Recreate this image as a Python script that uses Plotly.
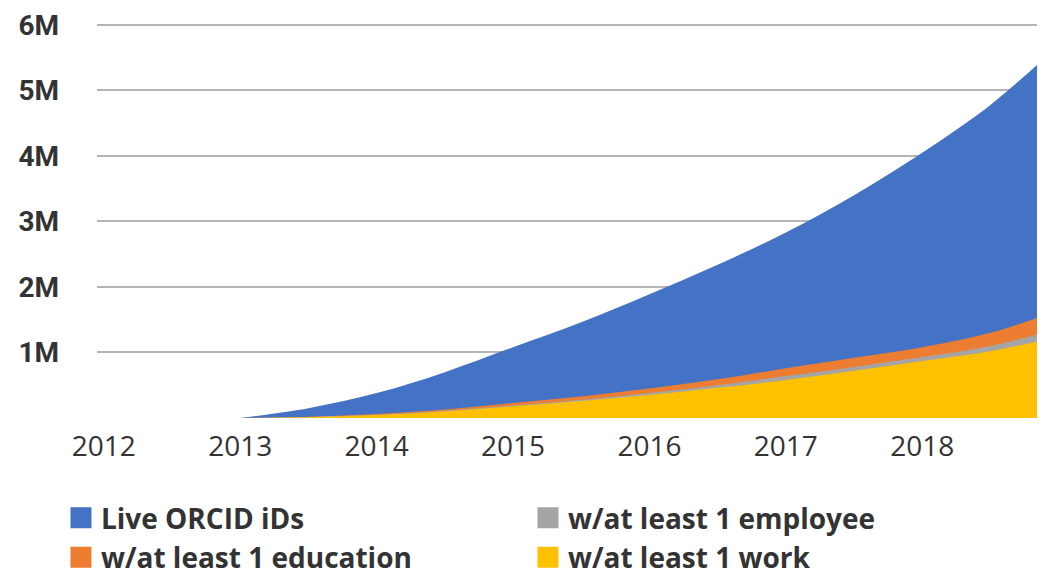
import plotly.graph_objects as go

years = [2013.0, 2013.5, 2014.0, 2014.5, 2015.0, 2015.5, 2016.0, 2016.5, 2017.0, 2017.5, 2018.0, 2018.5, 2018.9]
live_ids = [0, 0.15, 0.38, 0.7, 1.08, 1.46, 1.89, 2.34, 2.83, 3.4, 4.05, 4.78, 5.5]
education = [0, 0.02, 0.06, 0.13, 0.23, 0.33, 0.45, 0.59, 0.76, 0.92, 1.08, 1.3, 1.57]
employee = [0, 0.015, 0.05, 0.11, 0.19, 0.28, 0.38, 0.5, 0.64, 0.78, 0.93, 1.1, 1.31]
work = [0, 0.01, 0.045, 0.1, 0.18, 0.26, 0.35, 0.46, 0.58, 0.72, 0.87, 1.02, 1.19]

series = [
    ("Live ORCID iDs", live_ids, "#4472C4", 1),
    ("w/at least 1 education", education, "#ED7D31", 3),
    ("w/at least 1 employee", employee, "#A5A5A5", 2),
    ("w/at least 1 work", work, "#FFC000", 4),
]

x_ticks = [2012, 2013, 2014, 2015, 2016, 2017, 2018]
y_ticks = [1, 2, 3, 4, 5, 6]
y_labels = ["1M", "2M", "3M", "4M", "5M", "6M"]

fig = go.Figure()
for name, vals, color, rank in series:
    fig.add_trace(go.Scatter(
        x=years, y=[v * 1e6 for v in vals], name=name, mode="lines",
        line=dict(width=0, color=color, shape="spline", smoothing=1.0),
        fill="tozeroy", fillcolor=color, showlegend=False, hoverinfo="x+y+name",
    ))
# legend entries (square swatches)
for name, vals, color, rank in series:
    fig.add_trace(go.Scatter(
        x=[None], y=[None], name=name, mode="markers",
        marker=dict(symbol="square", size=16, color=color, line=dict(width=5, color=color)),
        legendrank=rank, showlegend=True,
    ))

# page body has an 8px margin, so the figure is sized to fit the 1045x578 window
fig.update_layout(
    width=1037, height=570,
    margin=dict(l=89, r=0, t=15, b=160, autoexpand=False),
    paper_bgcolor="white", plot_bgcolor="white",
    font=dict(family="Open Sans", color="#333333"),
    showlegend=True,
    legend=dict(
        orientation="h", x=-0.038, xanchor="left", y=-0.19, yanchor="top",
        entrywidth=422, entrywidthmode="pixels",
        font=dict(size=28, family="Open Sans", weight="bold", color="#333333"),
        itemsizing="trace", tracegroupgap=0, itemwidth=30,
    ),
)
fig.update_xaxes(
    range=[2011.95, 2018.9], tickvals=x_ticks, ticktext=[str(v) for v in x_ticks],
    showgrid=False, zeroline=False, showline=False, automargin=False,
    tickfont=dict(size=28, color="#333333", family="Open Sans"), ticks="", ticklabelstandoff=9,
    ticklabeloverflow="allow",
)
fig.update_yaxes(
    range=[0, 6.03e6], tickvals=[0] + [v * 1e6 for v in y_ticks], ticktext=[""] + y_labels,
    showgrid=True, gridcolor="rgba(90,90,90,0.45)", gridwidth=2,
    zeroline=False, showline=False, layer="above traces", automargin=False,
    tickfont=dict(size=28, color="#333333", family="Roboto", weight="bold"), ticks="", ticklabelstandoff=37,
    ticklabeloverflow="allow",
)

fig.write_html("out.html")
